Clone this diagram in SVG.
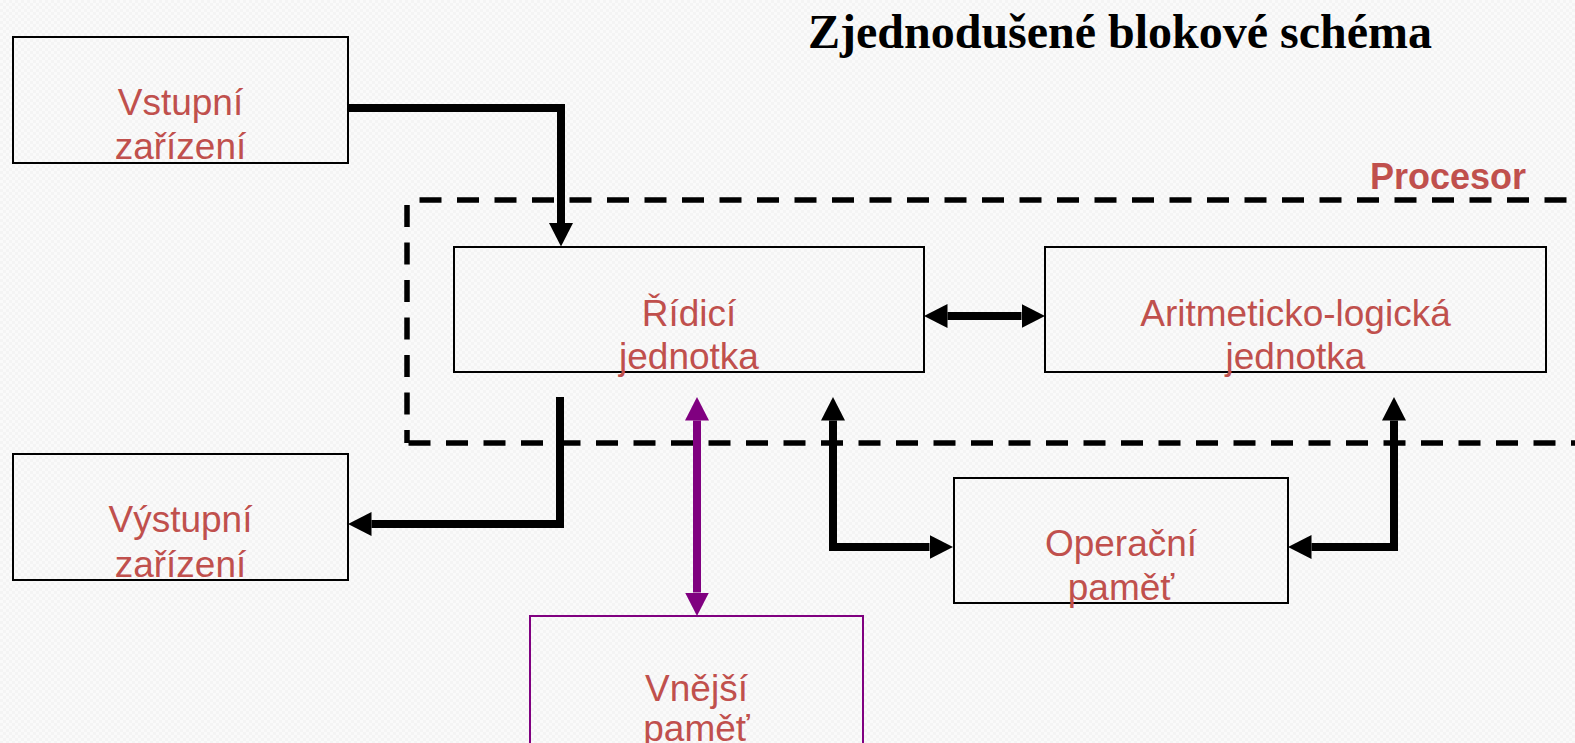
<svg xmlns="http://www.w3.org/2000/svg" width="1575" height="743" viewBox="0 0 1575 743">
<defs>
<pattern id="bg" width="6" height="6" patternUnits="userSpaceOnUse">
<rect width="6" height="6" fill="#f4f4f4"/>
<rect width="3" height="3" fill="#fafafa"/>
<rect x="3" y="3" width="3" height="3" fill="#fafafa"/>
</pattern>
<marker id="ah" markerUnits="userSpaceOnUse" markerWidth="24" markerHeight="24" refX="0" refY="12" orient="auto-start-reverse" viewBox="0 0 24 24">
<path d="M0,0 L23.5,12 L0,24 Z" fill="#000"/>
</marker>
<marker id="ahp" markerUnits="userSpaceOnUse" markerWidth="24" markerHeight="24" refX="0" refY="12" orient="auto-start-reverse" viewBox="0 0 24 24">
<path d="M0,0 L23.5,12 L0,24 Z" fill="#800080"/>
</marker>
<style>
.box{fill:none;stroke:#000;stroke-width:2}
.pbox{fill:none;stroke:#800080;stroke-width:2}
.lbl{font-family:"Liberation Sans",Arial,sans-serif;font-size:37px;fill:#C0504D;text-anchor:middle}
.con{fill:none;stroke:#000;stroke-width:8;stroke-linejoin:miter;stroke-linecap:butt}
.pcon{fill:none;stroke:#800080;stroke-width:8}
.dash{fill:none;stroke:#000;stroke-width:5.5;stroke-dasharray:22 15.5}
</style>
</defs>
<rect width="1575" height="743" fill="url(#bg)"/>

<text x="808" y="48" font-family="'Liberation Serif','Times New Roman',serif" font-size="48" font-weight="bold" fill="#000">Zjednodušené blokové schéma</text>

<g id="procesor">
<path class="dash" d="M419.5 200 H1575"/>
<path class="dash" d="M407 205 V443"/>
<path class="dash" d="M408.5 443 H1575"/>
<text x="1370" y="189" font-family="'Liberation Sans',Arial,sans-serif" font-size="36" font-weight="bold" fill="#C0504D">Procesor</text>
</g>

<g id="vstupni">
<rect class="box" x="13" y="37" width="335" height="126"/>
<text class="lbl" x="180.5" y="115">Vstupní</text>
<text class="lbl" x="180.5" y="159">zařízení</text>
</g>

<g id="vystupni">
<rect class="box" x="13" y="454" width="335" height="126"/>
<text class="lbl" x="180.5" y="532">Výstupní</text>
<text class="lbl" x="180.5" y="577">zařízení</text>
</g>

<g id="ridici">
<rect class="box" x="454" y="247" width="470" height="125"/>
<text class="lbl" x="689" y="326">Řídicí</text>
<text class="lbl" x="689" y="369">jednotka</text>
</g>

<g id="alu">
<rect class="box" x="1045" y="247" width="501" height="125"/>
<text class="lbl" x="1295.5" y="326">Aritmeticko-logická</text>
<text class="lbl" x="1295.5" y="369">jednotka</text>
</g>

<g id="operacni">
<rect class="box" x="954" y="478" width="334" height="125"/>
<text class="lbl" x="1121" y="556">Operační</text>
<text class="lbl" x="1121" y="600">paměť</text>
</g>

<g id="vnejsi">
<rect class="pbox" x="530" y="616" width="333" height="130"/>
<text class="lbl" x="696.5" y="701">Vnější</text>
<text class="lbl" x="696.5" y="741">paměť</text>
</g>

<g id="connectors">
<path class="con" d="M348 108 H561 V223" marker-end="url(#ah)"/>
<path class="con" d="M560 397 V524 H371.5" marker-end="url(#ah)"/>
<path class="con" d="M947.5 316 H1021.5" marker-start="url(#ah)" marker-end="url(#ah)"/>
<path class="pcon" d="M697 420.5 V592.5" marker-start="url(#ahp)" marker-end="url(#ahp)"/>
<path class="con" d="M833 420.5 V547 H929.5" marker-start="url(#ah)" marker-end="url(#ah)"/>
<path class="con" d="M1394 420.5 V547 H1311.5" marker-start="url(#ah)" marker-end="url(#ah)"/>
</g>
</svg>
